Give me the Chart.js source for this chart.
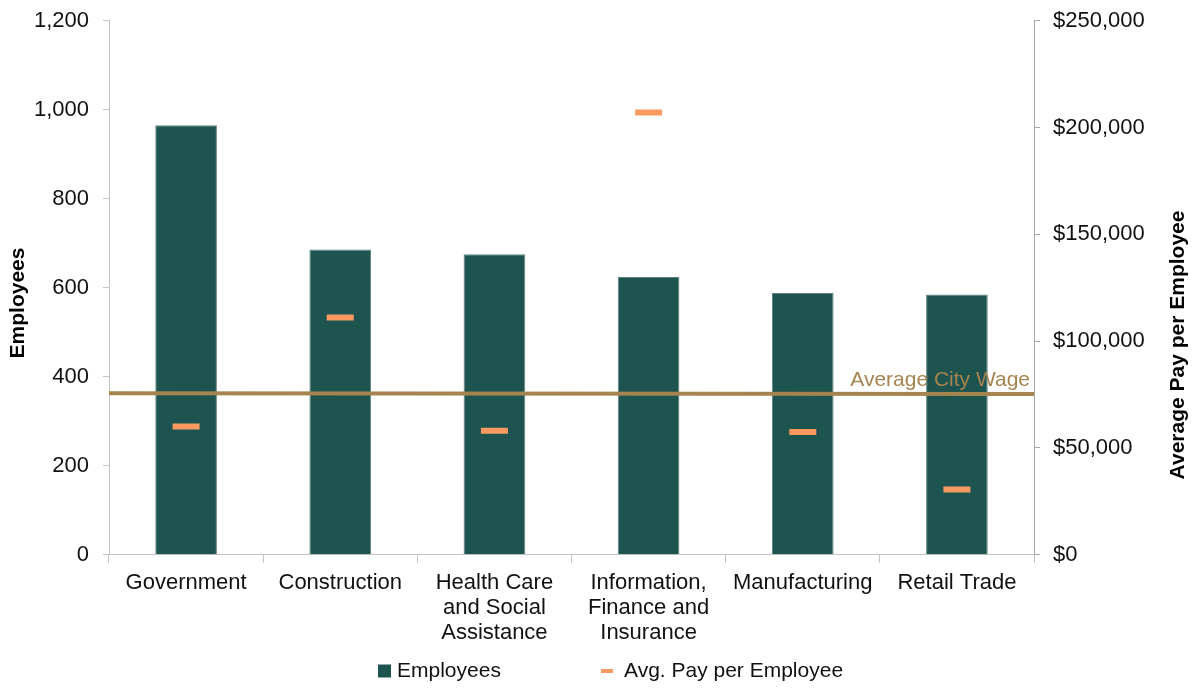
<!DOCTYPE html>
<html>
<head>
<meta charset="utf-8">
<script src="https://cdn.jsdelivr.net/npm/chart.js@4.4.1/dist/chart.umd.min.js"></script>
<style>
  html, body { margin: 0; padding: 0; background: #fff; }
</style>
</head>
<body>
<canvas id="payChart" width="1195" height="688"></canvas>
<script>
// data
var categories = ['Government', 'Construction', ['Health Care', 'and Social', 'Assistance'],
  ['Information,', 'Finance and', 'Insurance'], 'Manufacturing', 'Retail Trade'];
var employees = [965, 686, 675, 624, 588, 585];
var avgPay = [60000, 111000, 58000, 207000, 57500, 30500];
var cityWage = [75600, 75200]; // left end, right end of the line
var employeeAxis = { max: 1200, step: 200 };
var payAxis = { max: 250000, step: 50000 };

var FONT = '"Liberation Sans", Arial, sans-serif';
var barColor = '#1e5450';
var payColor = '#f99b60';
var wageColor = '#a6844f';

// titles, wage label and legend
var extrasPlugin = {
  id: 'extras',
  afterDraw: function(chart) {
    var ctx = chart.ctx;
    var y1 = chart.scales.y1;
    ctx.save();

    ctx.font = '21px ' + FONT;
    ctx.fillStyle = wageColor;
    ctx.textAlign = 'right';
    ctx.textBaseline = 'alphabetic';
    ctx.fillText('Average City Wage', chart.chartArea.right - 4, y1.getPixelForValue(cityWage[1]) - 8);

    ctx.font = 'bold 21px ' + FONT;
    ctx.fillStyle = '#000';
    ctx.textAlign = 'center';
    ctx.textBaseline = 'middle';
    ctx.save();
    ctx.translate(18, 303);
    ctx.rotate(-Math.PI / 2);
    ctx.fillText('Employees', 0, 0);
    ctx.restore();
    ctx.save();
    ctx.translate(1178, 345);
    ctx.rotate(-Math.PI / 2);
    ctx.fillText('Average Pay per Employee', 0, 0);
    ctx.restore();

    // legend
    var ly = 671;
    ctx.font = '21px ' + FONT;
    ctx.textAlign = 'left';
    ctx.fillStyle = barColor;
    ctx.fillRect(378, ly - 6.5, 13, 13);
    ctx.fillStyle = '#111';
    ctx.fillText(chart.data.datasets[0].label, 397, ly);
    ctx.fillStyle = payColor;
    ctx.fillRect(601, ly - 2, 12, 4);
    ctx.fillStyle = '#111';
    ctx.fillText(chart.data.datasets[1].label, 624, ly);

    ctx.restore();
  }
};

var ctx = document.getElementById('payChart').getContext('2d');
var myChart = new Chart(ctx, {
  type: 'bar',
  data: {
    labels: categories,
    datasets: [
      {
        label: 'Employees',
        data: employees,
        backgroundColor: barColor,
        borderColor: '#5d8580',
        borderWidth: 1,
        barPercentage: 0.4,
        categoryPercentage: 1,
        grouped: false,
        yAxisID: 'y',
        order: 3
      },
      {
        type: 'line',
        label: 'Avg. Pay per Employee',
        data: avgPay,
        showLine: false,
        pointStyle: 'line',
        pointRadius: 13.5,
        pointHoverRadius: 13.5,
        pointBorderWidth: 6,
        pointBorderColor: payColor,
        pointBackgroundColor: payColor,
        yAxisID: 'y1',
        order: 0
      },
      {
        type: 'line',
        label: 'Average City Wage',
        data: [{ x: 0, y: cityWage[0] }, { x: 1, y: cityWage[1] }],
        borderColor: wageColor,
        borderWidth: 4,
        pointRadius: 0,
        xAxisID: 'xw',
        yAxisID: 'y1',
        order: 1
      }
    ]
  },
  options: {
    responsive: false,
    animation: false,
    layout: { padding: { top: 20.7, bottom: 43.3, left: 0, right: 0 } },
    plugins: {
      legend: { display: false },
      tooltip: { enabled: false }
    },
    scales: {
      x: {
        offset: true,
        grid: { offset: true, drawOnChartArea: false, tickLength: 8, color: '#c4c4c4' },
        border: { color: '#c4c4c4' },
        ticks: {
          font: { family: FONT, size: 22, lineHeight: 1.136 },
          color: '#111',
          padding: 8,
          maxRotation: 0,
          autoSkip: false
        },
        afterFit: function(s) { s.height = 90; s.paddingLeft = 0; s.paddingRight = 0; }
      },
      xw: { type: 'linear', display: false, offset: false, min: 0, max: 1 },
      y: {
        position: 'left',
        min: 0,
        max: employeeAxis.max,
        grid: { drawOnChartArea: false, tickLength: 6, color: '#c4c4c4' },
        border: { color: '#c4c4c4' },
        ticks: {
          stepSize: employeeAxis.step,
          padding: 14,
          color: '#111',
          font: { family: FONT, size: 22 },
          callback: function(v) { return v.toLocaleString('en-US'); }
        },
        afterFit: function(s) { s.width = 109; s.paddingTop = 0; s.paddingBottom = 0; }
      },
      y1: {
        position: 'right',
        min: 0,
        max: payAxis.max,
        grid: { drawOnChartArea: false, tickLength: 6, color: '#a6a6a6' },
        border: { color: '#a6a6a6' },
        ticks: {
          stepSize: payAxis.step,
          padding: 13,
          color: '#111',
          font: { family: FONT, size: 22 },
          callback: function(v) { return '$' + v.toLocaleString('en-US'); }
        },
        afterFit: function(s) { s.width = 161; s.paddingTop = 0; s.paddingBottom = 0; }
      }
    }
  },
  plugins: [extrasPlugin]
});
</script>
</body>
</html>
